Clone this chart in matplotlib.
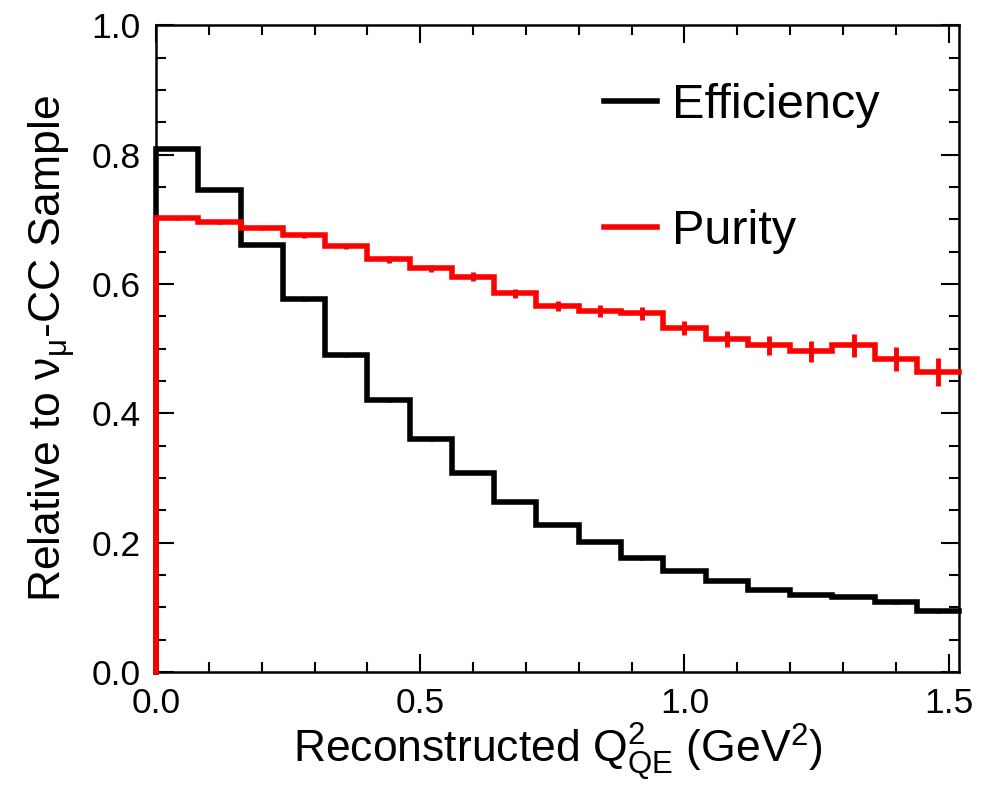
import numpy as np
import matplotlib
matplotlib.use("Agg")
import matplotlib.pyplot as plt
from matplotlib.ticker import MultipleLocator, FormatStrFormatter


# bin edges of reconstructed Q2_QE (GeV^2), 19 bins of 0.08
bin_edges = [0.00, 0.08, 0.16, 0.24, 0.32, 0.40, 0.48, 0.56, 0.64, 0.72,
             0.80, 0.88, 0.96, 1.04, 1.12, 1.20, 1.28, 1.36, 1.44, 1.52]

efficiency = [0.809, 0.745, 0.660, 0.577, 0.490, 0.420, 0.360, 0.308, 0.263,
              0.228, 0.201, 0.176, 0.157, 0.141, 0.127, 0.119, 0.116, 0.108,
              0.094]
efficiency_err = [0.002, 0.002, 0.002, 0.003, 0.003, 0.003, 0.002, 0.002, 0.002,
                  0.002, 0.002, 0.002, 0.002, 0.002, 0.002, 0.002, 0.002, 0.002,
                  0.002]

purity = [0.702, 0.696, 0.686, 0.675, 0.658, 0.638, 0.624, 0.611, 0.586,
          0.566, 0.558, 0.555, 0.532, 0.515, 0.505, 0.496, 0.505, 0.484,
          0.464]
purity_err = [0.003, 0.003, 0.003, 0.004, 0.004, 0.005, 0.006, 0.007, 0.007,
              0.008, 0.009, 0.010, 0.011, 0.013, 0.014, 0.016, 0.018, 0.019,
              0.021]

plt.rcParams["font.family"] = ["Liberation Sans", "DejaVu Sans"]
plt.rcParams["mathtext.fontset"] = "custom"
plt.rcParams["mathtext.rm"] = "Liberation Sans"
plt.rcParams["mathtext.it"] = "Liberation Sans:italic"
plt.rcParams["mathtext.bf"] = "Liberation Sans:bold"


def draw_hist(ax, values, errors, color, label):
    edges = np.array(bin_edges)
    vals = np.array(values)
    centers = 0.5 * (edges[:-1] + edges[1:])
    # step outline, rising from zero at the left edge
    xs = np.concatenate([[edges[0]], np.repeat(edges, 2)[1:-1]])
    ys = np.concatenate([[0.0], np.repeat(vals, 2)])
    ax.plot(xs, ys, color=color, lw=4.0, solid_joinstyle="miter",
            label=label, zorder=3, clip_on=False)
    ax.errorbar(centers, vals, yerr=errors, fmt="none", ecolor=color,
                elinewidth=3.5, capsize=0, zorder=3)


fig = plt.figure(figsize=(9.94, 7.88), dpi=100)
ax = fig.add_axes([0.157, 0.147, 0.808, 0.821])

draw_hist(ax, efficiency, efficiency_err, "black", "Efficiency")
draw_hist(ax, purity, purity_err, "#ff0000", "Purity")

ax.set_xlim(bin_edges[0], bin_edges[-1])
ax.set_ylim(0.0, 1.0)

ax.xaxis.set_major_locator(MultipleLocator(0.5))
ax.xaxis.set_minor_locator(MultipleLocator(0.1))
ax.yaxis.set_major_locator(MultipleLocator(0.2))
ax.yaxis.set_minor_locator(MultipleLocator(0.05))
ax.xaxis.set_major_formatter(FormatStrFormatter("%.1f"))
ax.yaxis.set_major_formatter(FormatStrFormatter("%.1f"))

ax.tick_params(which="both", direction="in", top=True, right=True,
               width=1.5, labelsize=25.5)
ax.tick_params(which="major", length=13, pad=11)
ax.tick_params(which="minor", length=7)
for spine in ax.spines.values():
    spine.set_linewidth(1.8)

ax.set_xlabel(r"Reconstructed $\mathrm{Q}^{2}_{\mathrm{QE}}$ (GeV$^{2}$)",
              fontsize=32, labelpad=1)
ax.set_ylabel(r"Relative to $\mathrm{ν}_{\mathrm{μ}}$-CC Sample",
              fontsize=32, labelpad=10)

ax.legend(loc="upper left", bbox_to_anchor=(0.533, 0.94), frameon=False,
          fontsize=35, handlelength=1.1, handletextpad=0.3,
          labelspacing=1.65, borderaxespad=0)

fig.savefig("out.png", dpi=100)
